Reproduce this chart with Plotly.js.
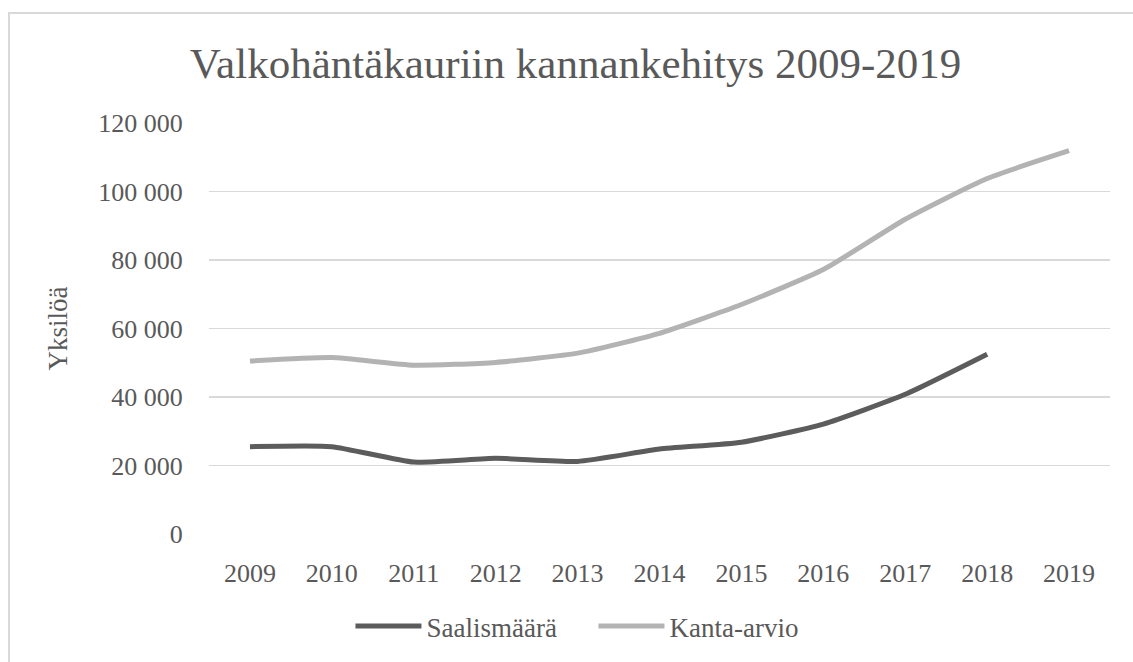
<!DOCTYPE html>
<html>
<head>
<meta charset="utf-8">
<script src="https://cdn.plot.ly/plotly-3.0.1.min.js"></script>
<style>
    body { margin: 0; background: #fff; }
    #wrap { position: relative; width: 1133px; height: 662px; overflow: hidden; }
    #frame {
        position: absolute; left: 8px; top: 12px; width: 1200px; height: 800px;
        border-top: 2px solid #d9d9d9; border-left: 2px solid #d9d9d9;
        pointer-events: none;
    }
</style>
</head>
<body>
<div id="wrap">
    <div id="chart" style="width:1133px;height:662px;"></div>
    <div id="frame"></div>
</div>
<script>
const years = ['2009', '2010', '2011', '2012', '2013', '2014', '2015', '2016', '2017', '2018', '2019']
const saalis = [25500, 25500, 21000, 22100, 21200, 24800, 26800, 32100, 40800, 52500]
const kanta = [50500, 51500, 49300, 50100, 52800, 58600, 67000, 77200, 91900, 103800, 111900]
const yTicks = [0, 20000, 40000, 60000, 80000, 100000, 120000]
const yTickText = ['0', '20 000', '40 000', '60 000', '80 000', '100 000', '120 000']

const textColor = '#595959'
const font = 'Liberation Serif'

let trace0 = {
    type: 'scatter',
    mode: 'lines',
    name: 'Saalismäärä',
    x: years.slice(0, saalis.length),
    y: saalis,
    line: { color: '#5c5c5c', width: 5, shape: 'spline', smoothing: 0.5 },
}

let trace1 = {
    type: 'scatter',
    mode: 'lines',
    name: 'Kanta-arvio',
    x: years,
    y: kanta,
    line: { color: '#b3b3b3', width: 5, shape: 'spline', smoothing: 0.5 },
}

const layout = {
    width: 1133,
    height: 662,
    margin: { l: 209, r: 23, t: 123, b: 127 },
    paper_bgcolor: '#fff',
    plot_bgcolor: '#fff',
    font: { family: font, color: textColor, size: 26 },
    title: {
        text: 'Valkohäntäkauriin kannankehitys 2009-2019',
        font: { family: font, size: 43, color: textColor },
        x: 0.508,
        xanchor: 'center',
        y: 0.905,
        yanchor: 'middle',
    },
    xaxis: {
        type: 'category',
        range: [-0.5, 10.5],
        showgrid: false,
        zeroline: false,
        showline: false,
        ticks: 'outside',
        ticklen: 16,
        tickcolor: 'rgba(0,0,0,0)',
        tickfont: { family: font, size: 26, color: textColor },
    },
    yaxis: {
        range: [0, 120000],
        tickvals: yTicks,
        ticktext: yTickText,
        showgrid: true,
        gridcolor: '#d9d9d9',
        gridwidth: 1.5,
        zeroline: false,
        showline: false,
        ticks: 'outside',
        ticklen: 20,
        tickcolor: 'rgba(0,0,0,0)',
        tickfont: { family: font, size: 26, color: textColor },
        title: { text: 'Yksilöä', font: { family: font, size: 27, color: textColor }, standoff: 22 },
    },
    showlegend: true,
    legend: {
        orientation: 'h',
        x: 0.157,
        xanchor: 'left',
        y: -0.222,
        yanchor: 'middle',
        font: { family: font, size: 27, color: textColor },
        itemwidth: 66,
        entrywidth: 162,
    },
}

Plotly.newPlot('chart', [trace0, trace1], layout, { displayModeBar: false, staticPlot: true })
</script>
</body>
</html>
